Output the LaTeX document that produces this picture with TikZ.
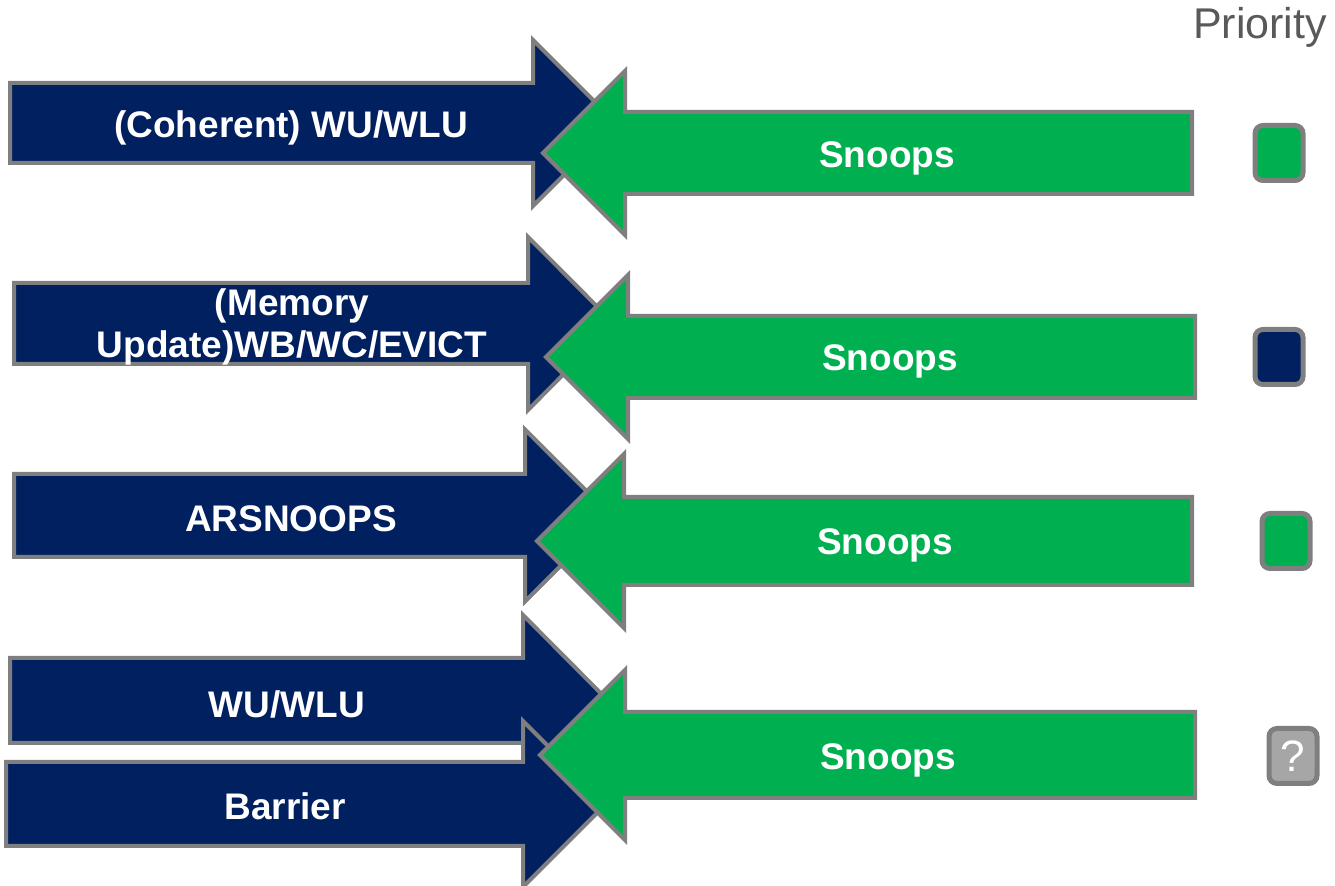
\documentclass[tikz,border=0pt]{standalone}
\usepackage{fontspec}
\setmainfont{Liberation Sans}
\definecolor{reqnavy}{HTML}{002060}
\definecolor{snoopgreen}{HTML}{00B050}
\definecolor{edgegray}{HTML}{7F7F7F}
\definecolor{askgray}{HTML}{A6A6A6}
\definecolor{titlegray}{HTML}{595959}
% block arrow: style, tail x, head base x, tip x, mid y, shaft half, head half
\newcommand{\blockarrow}[7]{%
  \draw[#1] (#2,#5-#6) -- (#3,#5-#6) -- (#3,#5-#7) -- (#4,#5)
    -- (#3,#5+#7) -- (#3,#5+#6) -- (#2,#5+#6) -- cycle;}
\begin{document}
\begin{tikzpicture}[
    x=0.5pt, y=-0.5pt,
    request/.style={draw=edgegray, line width=2pt, fill=reqnavy},
    snoop/.style={draw=edgegray, line width=2pt, fill=snoopgreen},
    arrowtext/.style={text=white, font=\fontsize{18.5}{21}\selectfont\bfseries,
        align=center, inner sep=0pt},
    prio/.style={rectangle, draw=edgegray, line width=2.5pt, rounded corners=4pt,
        minimum width=24pt, minimum height=27.5pt, inner sep=0pt}
]
\useasboundingbox (0,0) rectangle (1335,886);

\node (title) [text=titlegray, font=\fontsize{21.5}{24}\selectfont, anchor=east] at (1334,27) {Priority};

% row 1
\blockarrow{request}{10}{533}{616}{123}{40}{83}
\blockarrow{snoop}{1192}{625}{543}{153}{41}{82}
\node (cohwu) [arrowtext] at (291,128) {(Coherent) WU/WLU};
\node (snoop1) [arrowtext] at (887,158) {Snoops};
\node (prio1) [prio, fill=snoopgreen] at (1279,153) {};

% row 2
\blockarrow{request}{14}{528}{614}{323.5}{40.5}{86.5}
\blockarrow{snoop}{1195}{628}{546}{357}{41}{82}
\node (memupd) [arrowtext] at (292,327) {(Memory\\Update)WB/WC/EVICT};
\node (snoop2) [arrowtext] at (890,361) {Snoops};
\node (prio2) [prio, fill=reqnavy] at (1279,357) {};

% row 3
\blockarrow{request}{14}{525}{611}{515.5}{41.5}{86}
\blockarrow{snoop}{1192}{624}{537}{541}{44}{87}
\node (arsnoop) [arrowtext] at (291,519) {ARSNOOPS};
\node (snoop3) [arrowtext] at (885,545) {Snoops};
\node (prio3) [prio, fill=snoopgreen] at (1286,541) {};

% row 4
\blockarrow{request}{10}{523}{608}{700.5}{42.5}{85.5}
\blockarrow{request}{6}{523}{606}{804}{42}{83}
\blockarrow{snoop}{1195}{625}{540}{755}{43}{85}
\node (wu) [arrowtext] at (287,704) {WU/WLU};
\node (barrier) [arrowtext] at (285,806) {Barrier};
\node (snoop4) [arrowtext] at (888,760) {Snoops};
\node (prio4) [prio, fill=askgray, text=white, font=\fontsize{22}{24}\selectfont] at (1293,756) {?};
\end{tikzpicture}
\end{document}
